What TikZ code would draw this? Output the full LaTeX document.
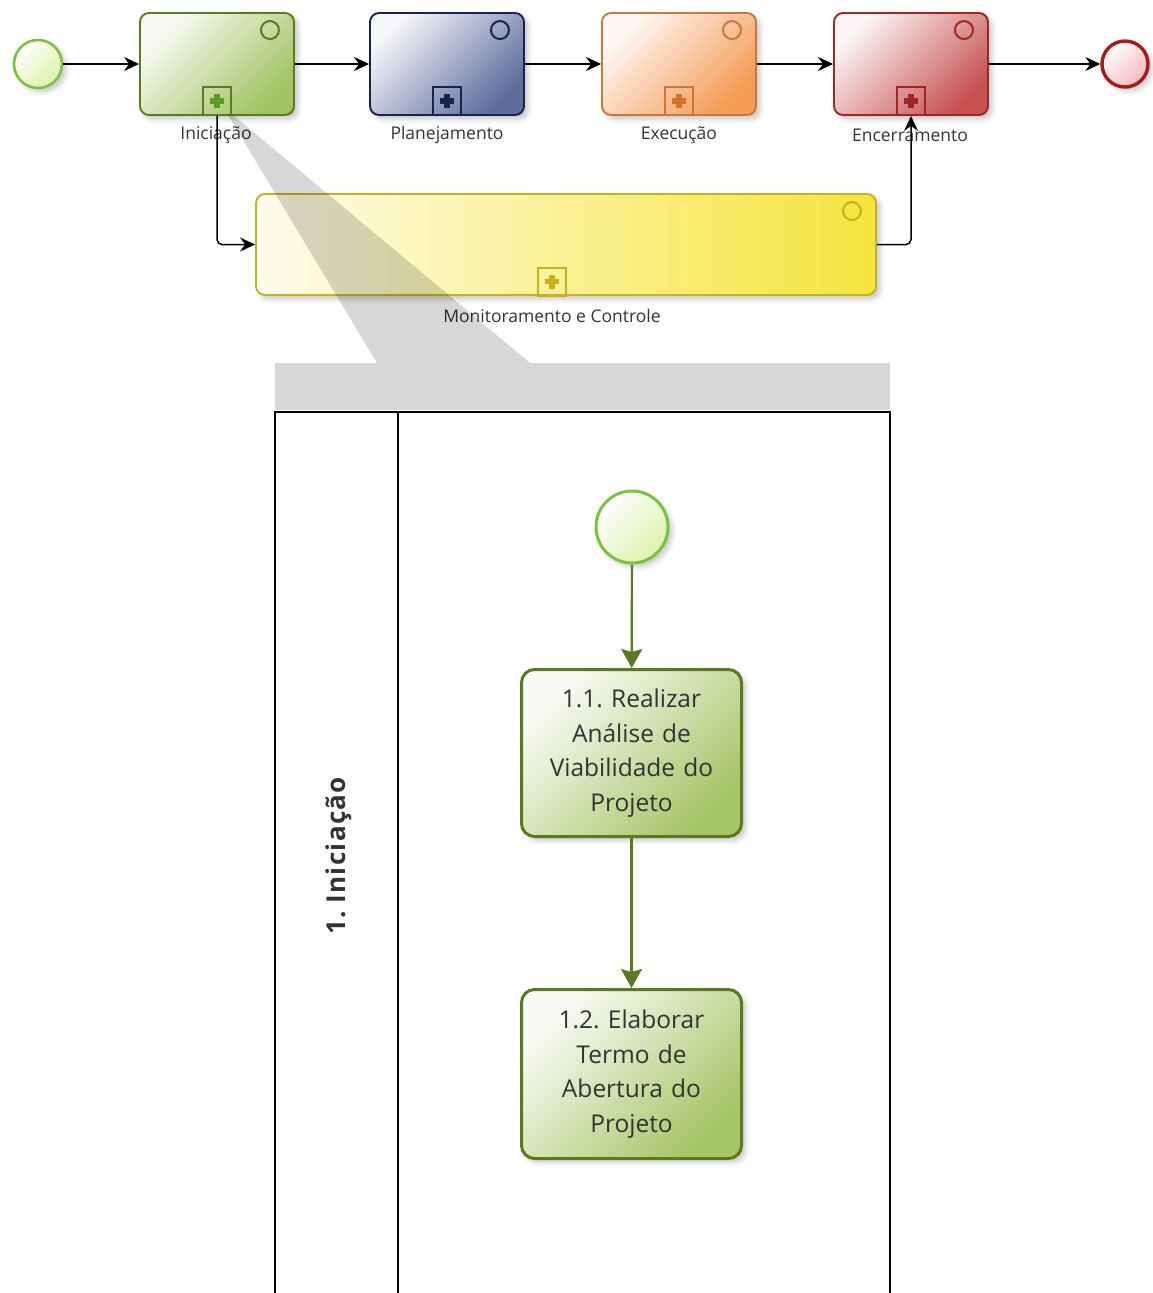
\documentclass[tikz,border=0pt]{standalone}
\usepackage{fontspec}
\setmainfont{Open Sans}
\usetikzlibrary{arrows.meta,shadows.blur}
\frenchspacing

% palette
\definecolor{gStroke}{HTML}{5B7B1E}
\definecolor{gFill}{HTML}{A2C262}
\definecolor{gPlus}{HTML}{5E9A22}
\definecolor{evStroke}{HTML}{7CC142}
\definecolor{evFill}{HTML}{DDF2AA}
\definecolor{nStroke}{HTML}{1C2250}
\definecolor{nFill}{HTML}{5E6C9E}
\definecolor{oStroke}{HTML}{C8783A}
\definecolor{oFill}{HTML}{F49A55}
\definecolor{oPlus}{HTML}{D8702A}
\definecolor{rStroke}{HTML}{A02626}
\definecolor{rFill}{HTML}{C65252}
\definecolor{endStroke}{HTML}{A8181C}
\definecolor{endFill}{HTML}{F2BABA}
\definecolor{yStroke}{HTML}{C6B21E}
\definecolor{yFill}{HTML}{F6E43C}
\definecolor{txt}{HTML}{333333}
\definecolor{tStroke}{HTML}{5A7A20}
\definecolor{tFill}{HTML}{A6C466}

% corner circle and collapsed-subprocess marker of a phase box
\newcommand{\phasemarks}[4]{%
  \draw[#2, line width=2pt] (#1.north east) ++(-25,18) circle[radius=9];
  \node[draw=#2, line width=1.8pt, minimum size=28pt, inner sep=0pt, anchor=south] (#1-m) at #4 {};
  \fill[#3] (#1-m.center) ++(-7,-2.6) rectangle ++(14,5.2);
  \fill[#3] (#1-m.center) ++(-2.6,-7) rectangle ++(5.2,14);
}

\begin{document}
\begin{tikzpicture}[x=1pt,y=-1pt,
  softshadow/.style={blur shadow={shadow xshift=4pt, shadow yshift=-4pt,
      shadow blur radius=5pt, shadow opacity=22}},
  phase/.style 2 args={draw=#1, left color=#2!6, right color=#2, shading angle=45,
      rounded corners=9pt, line width=1.9pt, minimum width=154pt,
      minimum height=102pt, inner sep=0pt, softshadow},
  event/.style 2 args={circle, draw=#1, left color=white, right color=#2,
      shading angle=45, inner sep=0pt, softshadow},
  lbl/.style={text=txt, font=\fontsize{17.5}{20}\selectfont, inner sep=0pt},
  flow/.style={line width=1.5pt, -{Stealth[length=15pt,width=14pt,inset=5pt]}},
  gflow/.style={draw=tStroke, line width=2.2pt,
      -{Stealth[length=19pt,width=21pt,inset=3pt,fill=tStroke]}},
  task/.style={draw=tStroke, line width=3pt, left color=tFill!6, right color=tFill,
      shading angle=45, rounded corners=13pt, minimum width=220pt,
      text width=200pt, align=center, text=txt,
      font=\fontsize{24.5}{34.5}\selectfont, softshadow},
]
\useasboundingbox (0,0) rectangle (1152,1293);

% ---------- top-level phase flow ----------
\node[event={evStroke}{evFill}, line width=2.6pt, minimum size=48pt] (s0) at (38,64) {};
\node[phase={gStroke}{gFill}] (ini) at (217,64) {};
\node[phase={nStroke}{nFill}] (pla) at (447,64) {};
\node[phase={oStroke}{oFill}] (exe) at (679,64) {};
\node[phase={rStroke}{rFill}] (enc) at (911,64) {};
\node[event={endStroke}{endFill}, line width=3.4pt, minimum size=46pt] (e0) at (1125,64) {};

\phasemarks{ini}{gStroke}{gPlus}{(ini.south)}
\phasemarks{pla}{nStroke}{nStroke}{(pla.south)}
\phasemarks{exe}{oStroke}{oPlus}{(exe.south)}
\phasemarks{enc}{rStroke}{rStroke}{(enc.south)}

\node[phase={yStroke}{yFill}, minimum width=620pt, minimum height=101pt,
  left color=yFill!10, right color=yFill] (mon) at (566,244.5) {};
\phasemarks{mon}{yStroke}{yStroke}{(552,296.5)}

\node[lbl] (ini-l) at (216,135) {Iniciação};
\node[lbl] (pla-l) at (447,135) {Planejamento};
\node[lbl] (exe-l) at (679,135) {Execução};
\node[lbl] (enc-l) at (910,135) {Encerramento};
\node[lbl] (mon-l) at (552,316) {Monitoramento e Controle};

\draw[flow] (s0) -- (ini);
\draw[flow] (ini) -- (pla);
\draw[flow] (pla) -- (exe);
\draw[flow] (exe) -- (enc);
\draw[flow] (enc) -- (e0);
\draw[flow, rounded corners=5pt] (ini-m.south) |- (mon.west);
\draw[flow, rounded corners=5pt] (mon.east) -| (enc-m.south);

% ---------- zoom wedge and pool header ----------
\fill[black, fill opacity=0.155] (228,115) -- (233,115) -- (530,363) -- (890,363)
  -- (890,410) -- (275,410) -- (275,363) -- (377,363) -- cycle;

% ---------- expanded pool ----------
\draw[line width=1.8pt] (275,1293) -- (275,412) -- (890,412) -- (890,1293);
\draw[line width=1.8pt] (398,412) -- (398,1293);
\node[rotate=90, text=txt, font=\bfseries\fontsize{26}{30}\selectfont\addfontfeatures{LetterSpace=5}]
  (lane) at (339,856) {1. Iniciação};

\node[event={evStroke}{evFill}, line width=3pt, minimum size=72pt] (s1) at (632,527) {};
\node[task, minimum height=167pt] (t1) at (631.5,753)
  {1.1. Realizar\\Análise de\\Viabilidade do\\Projeto};
\node[task, minimum height=169pt] (t2) at (631.5,1074)
  {1.2. Elaborar\\Termo de\\Abertura do\\Projeto};

\draw[gflow] (s1) -- (t1);
\draw[gflow] (t1) -- (t2);
\end{tikzpicture}
\end{document}
